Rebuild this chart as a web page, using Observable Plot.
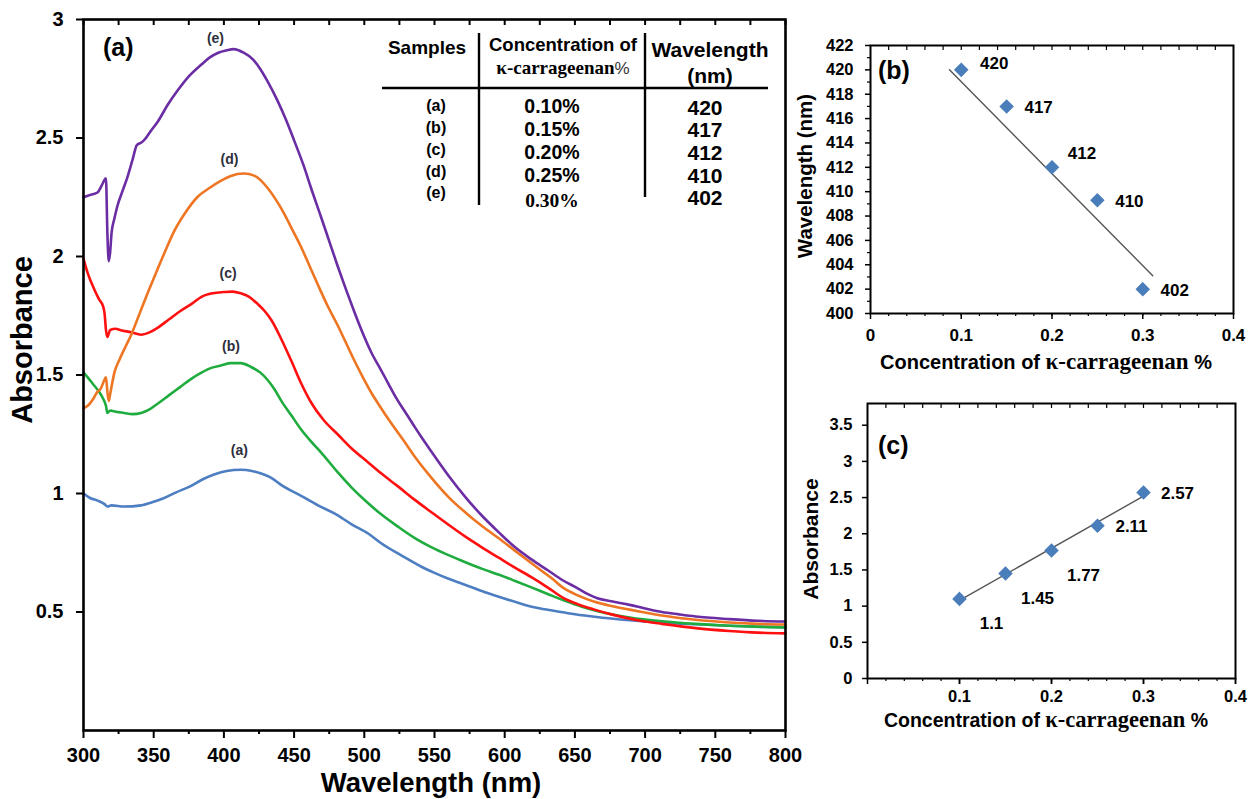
<!DOCTYPE html>
<html><head><meta charset="utf-8">
<script src="https://cdn.jsdelivr.net/npm/d3@7"></script>
<script src="https://cdn.jsdelivr.net/npm/@observablehq/plot@0.6"></script>
<style>
body{margin:0;background:#fff;}
#root{position:relative;width:1251px;height:799px;overflow:hidden;}
#root > svg{position:absolute;}
</style></head><body><div id="root"></div>
<script>
// ---------- Data: UV-Vis spectra (wavelength nm, absorbance) ----------
const seriesA = [[300,1.00],[305,0.98],[310,0.97],[315,0.955],[317,0.945],[320,0.95],[329,0.945],[341,0.95],[350,0.965],[357,0.98],[366,1.005],[376,1.03],[385,1.06],[393,1.08],[402,1.095],[412,1.10],[420,1.095],[426,1.085],[434,1.065],[441,1.035],[455,0.99],[467,0.95],[479,0.915],[491,0.87],[503,0.83],[512,0.79],[526,0.74],[541,0.69],[550,0.665],[560,0.64],[574,0.61],[586,0.583],[598,0.56],[610,0.538],[621,0.52],[633,0.507],[645,0.495],[664,0.48],[689,0.465],[712,0.455],[736,0.448],[760,0.442],[780,0.438],[800,0.435]];
const seriesB = [[300,1.51],[303,1.49],[307,1.46],[311,1.43],[314,1.40],[316,1.37],[317,1.34],[319,1.35],[323,1.345],[329,1.34],[335,1.335],[341,1.34],[347,1.355],[353,1.38],[361,1.415],[369,1.45],[377,1.485],[384,1.51],[391,1.53],[398,1.54],[405,1.55],[412,1.55],[419,1.535],[426,1.51],[431,1.48],[436,1.44],[441,1.39],[448,1.33],[455,1.27],[462,1.22],[469,1.175],[481,1.09],[491,1.025],[502,0.963],[512,0.912],[524,0.86],[536,0.812],[548,0.773],[560,0.74],[572,0.71],[584,0.682],[596,0.657],[607,0.632],[619,0.604],[631,0.575],[643,0.547],[655,0.522],[667,0.502],[689,0.477],[712,0.461],[736,0.45],[760,0.442],[800,0.435]];
const seriesC = [[300,1.99],[303,1.93],[307,1.87],[311,1.82],[314,1.79],[315,1.76],[316,1.69],[317,1.66],[319,1.69],[323,1.695],[326,1.69],[334,1.68],[341,1.67],[347,1.68],[353,1.70],[361,1.735],[369,1.77],[377,1.80],[384,1.83],[392,1.845],[400,1.85],[406,1.852],[412,1.845],[418,1.83],[424,1.80],[429,1.77],[434,1.73],[441,1.65],[448,1.56],[455,1.465],[462,1.385],[471,1.31],[481,1.25],[491,1.19],[502,1.135],[512,1.085],[524,1.03],[536,0.973],[548,0.92],[560,0.868],[572,0.818],[584,0.772],[596,0.728],[607,0.688],[619,0.647],[631,0.602],[641,0.562],[652,0.533],[664,0.51],[676,0.49],[689,0.472],[700,0.46],[712,0.45],[736,0.432],[760,0.42],[780,0.413],[800,0.41]];
const seriesD = [[300,1.36],[303,1.37],[307,1.40],[310,1.43],[312,1.44],[315,1.48],[316,1.49],[317,1.43],[318,1.39],[319,1.42],[322,1.51],[326,1.57],[330,1.62],[334,1.67],[340,1.76],[346,1.85],[353,1.95],[358,2.02],[364,2.10],[372,2.18],[381,2.25],[390,2.29],[398,2.32],[405,2.34],[414,2.35],[422,2.34],[431,2.29],[437,2.24],[443,2.18],[449,2.11],[455,2.04],[461,1.96],[467,1.88],[474,1.79],[481,1.71],[487,1.635],[493,1.56],[499,1.49],[505,1.425],[512,1.36],[517,1.315],[529,1.215],[536,1.155],[548,1.065],[560,0.985],[572,0.92],[584,0.862],[596,0.81],[607,0.76],[617,0.715],[626,0.675],[634,0.64],[641,0.605],[652,0.57],[664,0.543],[676,0.525],[689,0.51],[700,0.498],[712,0.485],[736,0.467],[760,0.456],[780,0.45],[800,0.447]];
const seriesE = [[300,2.25],[305,2.26],[310,2.27],[313,2.30],[316,2.33],[317,2.10],[318,1.98],[319,2.02],[320,2.10],[322,2.16],[324,2.21],[328,2.28],[331,2.33],[335,2.41],[338,2.47],[341,2.48],[343,2.49],[348,2.53],[353,2.57],[360,2.64],[367,2.70],[375,2.76],[384,2.81],[390,2.84],[396,2.86],[402,2.87],[407,2.875],[414,2.86],[421,2.83],[426,2.79],[431,2.74],[438,2.66],[444,2.58],[450,2.49],[457,2.38],[462,2.29],[469,2.17],[475,2.065],[481,1.96],[487,1.86],[493,1.765],[499,1.675],[505,1.595],[512,1.52],[517,1.465],[523,1.40],[529,1.345],[536,1.28],[541,1.235],[548,1.175],[560,1.075],[572,0.985],[584,0.905],[596,0.835],[607,0.775],[619,0.722],[631,0.675],[641,0.635],[652,0.60],[660,0.573],[666,0.558],[676,0.545],[689,0.53],[700,0.515],[712,0.50],[724,0.49],[736,0.481],[760,0.47],[780,0.463],[800,0.46]];

const sampleKeys = ["a","b","c","d","e"];
const sampleNames = ["(a)","(b)","(c)","(d)","(e)"];
const concentrations = [0.10, 0.15, 0.20, 0.25, 0.30];
const concLabels = ["0.10%","0.15%","0.20%","0.25%","0.30%"];
const peakWavelengths = [420, 417, 412, 410, 402];   // panel (b) labels
const peakWavelengthPlot = [420, 417, 412, 409.3, 402]; // as plotted
const peakAbsorbance = [1.1, 1.45, 1.77, 2.11, 2.57];
const absLabels = ["1.1","1.45","1.77","2.11","2.57"];
const trendB = [[0.087, 420.0], [0.311, 403.1]];
const trendC = [[0.10, 1.08], [0.30, 2.52]];
// curve label anchor positions (wavelength, absorbance)
const curveLabelPos = [[411, 1.18],[405, 1.62],[403, 1.93],[404, 2.41],[394, 2.92]];

const xTicksMain = [300,350,400,450,500,550,600,650,700,750,800];
const yTicksMain = [0.5,1,1.5,2,2.5,3];
const yTicksB = [400,402,404,406,408,410,412,414,416,418,420,422];
const xTicksB = [0,0.1,0.2,0.3,0.4];
const yTicksC = [0,0.5,1,1.5,2,2.5,3,3.5];
const xTicksC = [0.1,0.2,0.3,0.4];

const colors = ["#4d7ec2","#1fac3e","#ff1010","#ee7522","#6b2da3"];
const FONT = "Liberation Sans, Arial, sans-serif";
const SERIF = "Liberation Serif, Times New Roman, serif";

const allSeries = [seriesA, seriesB, seriesC, seriesD, seriesE];
const curveRows = allSeries.flatMap((s, i) => s.map(([nm, a]) => ({nm, a, s: sampleKeys[i]})));
const curveLabels = curveLabelPos.map(([nm, a], i) => ({nm, a, t: sampleNames[i]}));

const root = document.getElementById("root");

// ---------- Main panel (a) ----------
const main = Plot.plot({
  width: 840, height: 799,
  marginLeft: 83, marginRight: 55, marginTop: 19, marginBottom: 69,
  style: {fontFamily: FONT, fontWeight: "bold", fontSize: "20px", background: "transparent", color: "black"},
  x: {domain: [300, 800]},
  y: {domain: [0, 3]},
  color: {domain: sampleKeys, range: colors},
  marks: [
    Plot.line(curveRows, {x: "nm", y: "a", z: "s", stroke: "s", strokeWidth: 2.6, strokeLinejoin: "round", curve: "monotone-x"}),
    Plot.text(curveLabels, {x: "nm", y: "a", text: "t", fontSize: 14, fill: "#2e2e3c", fontWeight: "bold"}),
    Plot.frame({stroke: "black", strokeWidth: 2.6}),
    Plot.axisX(xTicksMain, {anchor: "bottom", tickSize: 8, tickPadding: 9, strokeWidth: 2, label: null, fontSize: 20, tickFormat: d => String(d)}),
    Plot.axisX(xTicksMain.slice(0, -1).map(d => d + 25), {anchor: "bottom", tickSize: 4, strokeWidth: 2, tickFormat: () => "", label: null}),
    Plot.axisX([...xTicksMain, ...xTicksMain.slice(0, -1).map(d => d + 25)], {anchor: "top", tickSize: 5, dy: 5, strokeWidth: 2, tickFormat: () => "", label: null}),
    Plot.axisY(yTicksMain, {anchor: "left", tickSize: 7, tickPadding: 13, strokeWidth: 2, label: null, fontSize: 20, tickFormat: d => String(d)})
  ]
});
main.style.left = "0px"; main.style.top = "0px";
root.appendChild(main);

// ---------- Panel (b) ----------
const ptsB = concentrations.map((c, i) => ({c, w: peakWavelengthPlot[i], t: String(peakWavelengths[i])}));
const panelB = Plot.plot({
  width: 461, height: 380,
  marginLeft: 80, marginRight: 18, marginTop: 45, marginBottom: 67,
  style: {fontFamily: FONT, fontWeight: "bold", fontSize: "16px", background: "transparent", color: "black"},
  x: {domain: [0, 0.4]},
  y: {domain: [400, 422]},
  marks: [
    Plot.frame({stroke: "black", strokeWidth: 2}),
    Plot.axisY(yTicksB, {anchor: "left", tickSize: 5, tickPadding: 12, strokeWidth: 1.5, label: null, fontSize: 16.5}),
    Plot.axisY(yTicksB.slice(0, -1).map(d => d + 1), {anchor: "left", tickSize: 3, strokeWidth: 1.2, tickFormat: () => "", label: null}),
    Plot.axisX(xTicksB, {anchor: "bottom", tickSize: 6, tickPadding: 9, strokeWidth: 1.5, label: null, fontSize: 17, tickFormat: d => String(d)}),
    Plot.axisX(d3.range(1, 20).map(i => i * 0.02), {anchor: "bottom", tickSize: 3, strokeWidth: 1.2, tickFormat: () => "", label: null}),
    Plot.axisX(d3.range(1, 20).map(i => i * 0.02), {anchor: "top", tickSize: 4, dy: 4, strokeWidth: 1.2, tickFormat: () => "", label: null}),
    Plot.line(trendB, {x: d => d[0], y: d => d[1], stroke: "#555", strokeWidth: 1.4}),
    Plot.dot(ptsB, {x: "c", y: "w", symbol: "diamond2", r: 5.6, fill: "#4a7ebb", stroke: "#4a7ebb"}),
    Plot.text(ptsB, {filter: d => d.t === "420", x: "c", y: "w", text: "t", dx: 33, dy: -6, fontSize: 17}),
    Plot.text(ptsB, {filter: d => d.t === "412", x: "c", y: "w", text: "t", dx: 30, dy: -14, fontSize: 17}),
    Plot.text(ptsB, {filter: d => d.t !== "420" && d.t !== "412", x: "c", y: "w", text: "t", dx: 32, dy: 1, fontSize: 17})
  ]
});
panelB.style.left = "790px"; panelB.style.top = "0px";
root.appendChild(panelB);

// ---------- Panel (c) ----------
const ptsC = concentrations.map((c, i) => ({c, a: peakAbsorbance[i], t: absLabels[i]}));
const panelC = Plot.plot({
  width: 461, height: 419,
  marginLeft: 77, marginRight: 16, marginTop: 23, marginBottom: 121,
  style: {fontFamily: FONT, fontWeight: "bold", fontSize: "16px", background: "transparent", color: "black"},
  x: {domain: [0, 0.4]},
  y: {domain: [0, 3.8]},
  marks: [
    Plot.frame({stroke: "black", strokeWidth: 2}),
    Plot.axisY(yTicksC, {anchor: "left", tickSize: 5, tickPadding: 10, strokeWidth: 1.5, label: null, fontSize: 16.5, tickFormat: d => String(d)}),
    Plot.axisX([0, ...xTicksC], {anchor: "bottom", tickSize: 6, strokeWidth: 1.5, tickFormat: () => "", label: null}),
    Plot.axisX(xTicksC, {anchor: "bottom", tickSize: 6, tickPadding: 6, strokeWidth: 1.5, label: null, fontSize: 16.5, tickFormat: d => String(d)}),
    Plot.axisX(d3.range(1, 20).map(i => i * 0.02), {anchor: "bottom", tickSize: 3, strokeWidth: 1.2, tickFormat: () => "", label: null}),
    Plot.axisX(d3.range(1, 20).map(i => i * 0.02), {anchor: "top", tickSize: 4, dy: 4, strokeWidth: 1.2, tickFormat: () => "", label: null}),
    Plot.line(trendC, {x: d => d[0], y: d => d[1], stroke: "#555", strokeWidth: 1.4}),
    Plot.dot(ptsC, {x: "c", y: "a", symbol: "diamond2", r: 5.6, fill: "#4a7ebb", stroke: "#4a7ebb"}),
    Plot.text(ptsC, {filter: d => d.a < 2, x: "c", y: "a", text: "t", dx: 32, dy: 25, fontSize: 17}),
    Plot.text(ptsC, {filter: d => d.a >= 2, x: "c", y: "a", text: "t", dx: 34, dy: 1, fontSize: 17})
  ]
});
panelC.style.left = "790px"; panelC.style.top = "380px";
root.appendChild(panelC);

// ---------- Overlay: titles, panel letters, table ----------
const ov = d3.select(root).append("svg")
  .attr("width", 1251).attr("height", 799)
  .style("left", "0px").style("top", "0px")
  .attr("font-family", FONT).attr("font-weight", "bold");

function txt(x, y, s, size, anchor = "middle", rot = 0, family = FONT) {
  const t = ov.append("text").attr("x", x).attr("y", y).attr("font-size", size)
    .attr("text-anchor", anchor).attr("font-family", family).text(s);
  if (rot) t.attr("transform", `rotate(${rot},${x},${y})`);
  return t;
}

// main axis titles
txt(32, 340, "Absorbance", 29, "middle", -90);
txt(431, 792, "Wavelength (nm)", 27.5);
txt(103, 56, "(a)", 25, "start");
txt(878, 79, "(b)", 25, "start");
txt(878, 454, "(c)", 25, "start");

// panel b / c axis titles
txt(812, 176, "Wavelength (nm)", 20.5, "middle", -90);
txt(818, 539, "Absorbance", 21, "middle", -90);
function concTitle(y, size) {
  const t = ov.append("text").attr("x", 1046).attr("y", y).attr("text-anchor", "middle").attr("font-size", size);
  t.append("tspan").text("Concentration of ");
  t.append("tspan").attr("font-family", SERIF).attr("font-size", size + 3).text("κ-carrageenan");
  t.append("tspan").text(" %");
}
concTitle(369, 20);
concTitle(727, 19.5);

// table
const tbl = ov.append("g");
tbl.append("line").attr("x1", 382).attr("x2", 768).attr("y1", 88).attr("y2", 88).attr("stroke", "black").attr("stroke-width", 2.6);
tbl.append("line").attr("x1", 479).attr("x2", 479).attr("y1", 33).attr("y2", 205).attr("stroke", "black").attr("stroke-width", 2.4);
tbl.append("line").attr("x1", 645).attr("x2", 645).attr("y1", 33).attr("y2", 197).attr("stroke", "black").attr("stroke-width", 2.4);
txt(427, 54, "Samples", 19);
txt(563, 51, "Concentration of", 18.5);
{
  const t = ov.append("text").attr("x", 563).attr("y", 74).attr("text-anchor", "middle");
  t.append("tspan").attr("font-family", SERIF).attr("font-size", 19).text("κ-carrageenan");
  t.append("tspan").attr("font-size", 17).attr("font-weight", "normal").attr("fill", "#333").text("%");
}
txt(710, 57, "Wavelength", 21);
txt(710, 83, "(nm)", 21);
const rowSampleY = [111, 133, 155, 177, 198];
const rowConcY = [113, 136, 159, 182, 207];
const rowWaveY = [115, 137, 160, 183, 205];
sampleNames.forEach((s, i) => txt(436, rowSampleY[i], s, 16));
concLabels.forEach((s, i) => txt(552, rowConcY[i], s, 19.5, "middle", 0, i === 4 ? SERIF : FONT));
peakWavelengths.forEach((w, i) => txt(705, rowWaveY[i], String(w), 21));
</script>
</body></html>
